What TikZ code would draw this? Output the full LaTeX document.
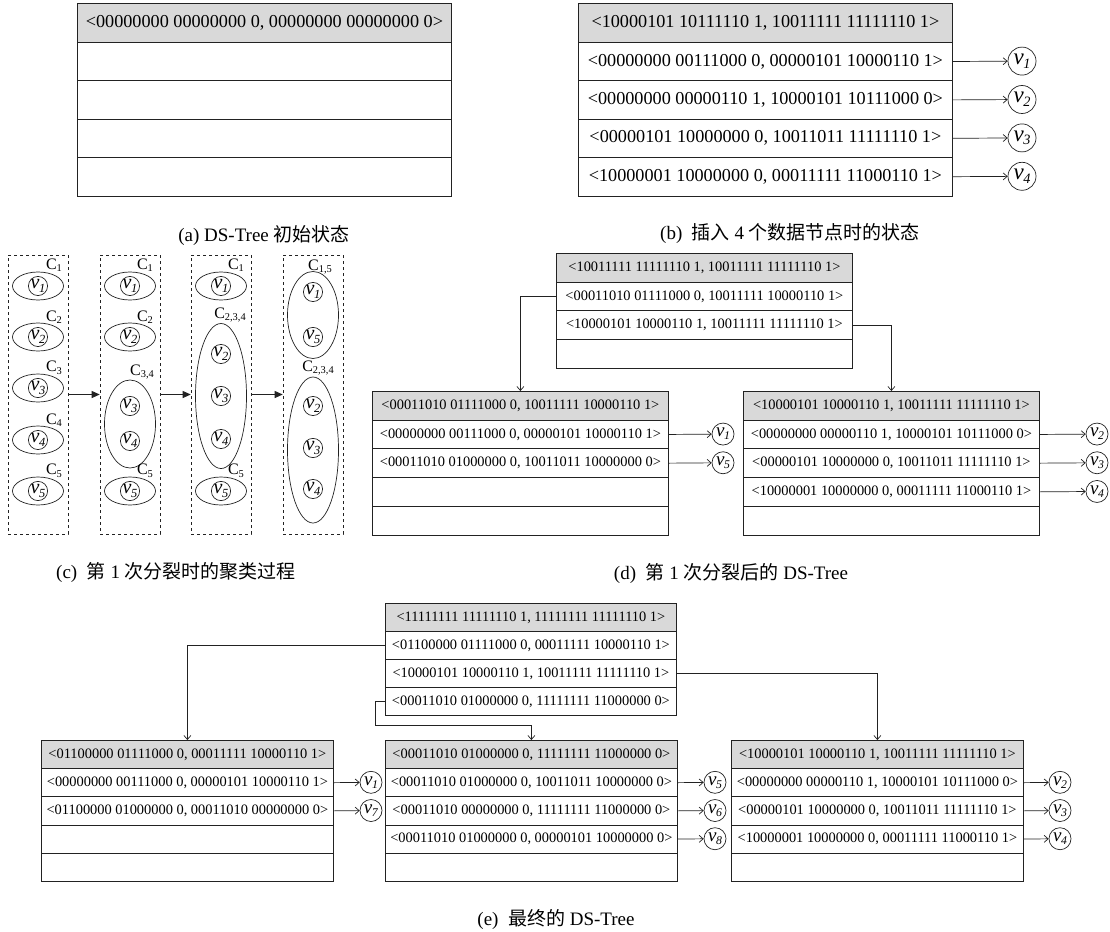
\documentclass[tikz,border=0pt]{standalone}
\usepackage{fontspec}
\setmainfont{Liberation Serif}
\newfontfamily\cjk{Noto Sans CJK SC}
\usepackage{graphicx}
\usetikzlibrary{shapes.geometric,arrows.meta}
\definecolor{hdrgray}{HTML}{D9D9D9}
\definecolor{ink}{HTML}{222222}
\newcommand{\vsub}[1]{\textit{v}\kern-0.02em\raisebox{-0.35ex}{\scalebox{0.62}{\textit{#1}}}}
\newcommand{\csub}[1]{C\raisebox{-0.35ex}{\scalebox{0.65}{#1}}}
\tikzset{
  tblA/.style={draw=ink, line width=0.8pt, minimum width=374pt, minimum height=38.4pt, inner sep=0pt, anchor=north west, font=\fontsize{18.2}{20}\selectfont},
  tblD/.style={draw=ink, line width=0.8pt, minimum width=296pt, minimum height=28.7pt, inner sep=0pt, anchor=north west, font=\fontsize{14.4}{16}\selectfont},
  tblE/.style={draw=ink, line width=0.8pt, minimum width=292pt, minimum height=28.1pt, inner sep=0pt, anchor=north west, font=\fontsize{14.4}{16}\selectfont},
  hdr/.style={fill=hdrgray},
  vbig/.style={circle, draw=ink, line width=0.7pt, minimum size=28pt, inner sep=0pt, font=\fontsize{23}{23}\selectfont},
  vmid/.style={circle, draw=ink, line width=0.7pt, minimum size=22pt, inner sep=0pt, font=\fontsize{19}{19}\selectfont},
  vsmall/.style={circle, draw=ink, line width=0.7pt, minimum size=18pt, inner sep=0pt, font=\fontsize{20}{20}\selectfont},
  clu/.style={ellipse, draw=ink, line width=0.7pt, inner sep=0pt, minimum width=51pt},
  clab/.style={font=\fontsize{16}{16}\selectfont, inner sep=0pt},
  cbox/.style={draw=ink, dashed, line width=0.6pt, minimum width=60pt, minimum height=279pt, inner sep=0pt},
  conn/.style={draw=ink, line width=0.7pt, -{Straight Barb[length=4pt,width=7pt]}},
  flow/.style={draw=ink, line width=0.8pt, -{Triangle[length=8pt,width=7pt]}},
  capt/.style={font=\fontsize{19}{19}\selectfont, inner sep=0pt},
}
\begin{document}
\begin{tikzpicture}[x=1pt,y=-1pt]
\useasboundingbox (0,0) rectangle (1110,931);
% ---------------- (a)
\node[tblA,hdr] (a0) at (77,3.5) {<00000000 00000000 0, 00000000 00000000 0>};
\node[tblA] (a1) at (77,41.9) {};
\node[tblA] (a2) at (77,80.3) {};
\node[tblA] (a3) at (77,118.7) {};
\node[tblA] (a4) at (77,157.1) {};
\node[capt] (capa) at (264,236) {(a) DS-Tree {\cjk 初始状态}};
% ---------------- (b)
\node[tblA,hdr] (b0) at (578,3.5) {<10000101 10111110 1, 10011111 11111110 1>};
\node[tblA] (b1) at (578,41.9) {<00000000 00111000 0, 00000101 10000110 1>};
\node[tblA] (b2) at (578,80.3) {<00000000 00000110 1, 10000101 10111000 0>};
\node[tblA] (b3) at (578,118.7) {<00000101 10000000 0, 10011011 11111110 1>};
\node[tblA] (b4) at (578,157.1) {<10000001 10000000 0, 00011111 11000110 1>};
\node[vbig] (bv1) at (1022,61.1) {\vsub{1}};
\node[vbig] (bv2) at (1022,99.5) {\vsub{2}};
\node[vbig] (bv3) at (1022,137.9) {\vsub{3}};
\node[vbig] (bv4) at (1022,176.3) {\vsub{4}};
\draw[conn] (b1.east) -- (bv1);
\draw[conn] (b2.east) -- (bv2);
\draw[conn] (b3.east) -- (bv3);
\draw[conn] (b4.east) -- (bv4);
\node[capt] (capb) at (790,234) {(b)\ \ {\cjk 插入} 4 {\cjk 个数据节点时的状态}};
% ---------------- (c)
\node[cbox] (cb1) at (38,394.5) {};
\node[cbox] (cb2) at (130,394.5) {};
\node[cbox] (cb3) at (221,394.5) {};
\node[cbox] (cb4) at (313,394.5) {};
\draw[flow] (cb1.east) -- (cb2.west);
\draw[flow] (cb2.east) -- (cb3.west);
\draw[flow] (cb3.east) -- (cb4.west);
% box 1
\node[clu, minimum height=28pt] (c1e1) at (38,286) {};
\node[clu, minimum height=28pt] (c1e2) at (38,337) {};
\node[clu, minimum height=28pt] (c1e3) at (38,388) {};
\node[clu, minimum height=28pt] (c1e4) at (38,440) {};
\node[clu, minimum height=28pt] (c1e5) at (38,491) {};
\node[vsmall] (c1v1) at (38,286) {\vsub{1}};
\node[vsmall] (c1v2) at (38,337) {\vsub{2}};
\node[vsmall] (c1v3) at (38,388) {\vsub{3}};
\node[vsmall] (c1v4) at (38,440) {\vsub{4}};
\node[vsmall] (c1v5) at (38,491) {\vsub{5}};
\node[clab] (c1l1) at (54,265) {\csub{1}};
\node[clab] (c1l2) at (54,317) {\csub{2}};
\node[clab] (c1l3) at (54,368) {\csub{3}};
\node[clab] (c1l4) at (54,420) {\csub{4}};
\node[clab] (c1l5) at (54,471) {\csub{5}};
% box 2
\node[clu, minimum height=28pt] (c2e1) at (130,286) {};
\node[clu, minimum height=28pt] (c2e2) at (130,337) {};
\node[clu, minimum height=88pt] (c2e34) at (130,424) {};
\node[clu, minimum height=28pt] (c2e5) at (130,491) {};
\node[vsmall] (c2v1) at (130,286) {\vsub{1}};
\node[vsmall] (c2v2) at (130,337) {\vsub{2}};
\node[vsmall] (c2v3) at (130,406) {\vsub{3}};
\node[vsmall] (c2v4) at (130,441) {\vsub{4}};
\node[vsmall] (c2v5) at (130,491) {\vsub{5}};
\node[clab] (c2l1) at (145,265) {\csub{1}};
\node[clab] (c2l2) at (145,317) {\csub{2}};
\node[clab] (c2l34) at (142,372) {\csub{3,4}};
\node[clab] (c2l5) at (145,471) {\csub{5}};
% box 3
\node[clu, minimum height=28pt] (c3e1) at (221,286) {};
\node[clu, minimum height=145pt] (c3e234) at (221,396) {};
\node[clu, minimum height=28pt] (c3e5) at (221,491) {};
\node[vsmall] (c3v1) at (221,286) {\vsub{1}};
\node[vsmall] (c3v2) at (221,354) {\vsub{2}};
\node[vsmall] (c3v3) at (221,396) {\vsub{3}};
\node[vsmall] (c3v4) at (221,439) {\vsub{4}};
\node[vsmall] (c3v5) at (221,491) {\vsub{5}};
\node[clab] (c3l1) at (236,265) {\csub{1}};
\node[clab] (c3l234) at (230,315) {\csub{2,3,4}};
\node[clab] (c3l5) at (236,471) {\csub{5}};
% box 4
\node[clu, minimum height=87pt] (c4e15) at (313,315) {};
\node[clu, minimum height=146pt] (c4e234) at (313,450) {};
\node[vsmall] (c4v1) at (313,292) {\vsub{1}};
\node[vsmall] (c4v5) at (313,337) {\vsub{5}};
\node[vsmall] (c4v2) at (313,406) {\vsub{2}};
\node[vsmall] (c4v3) at (313,448) {\vsub{3}};
\node[vsmall] (c4v4) at (313,489) {\vsub{4}};
\node[clab] (c4l15) at (320,267) {\csub{1,5}};
\node[clab] (c4l234) at (318,368) {\csub{2,3,4}};
\node[capt] (capc) at (176,572) {(c)\ \ {\cjk 第} 1 {\cjk 次分裂时的聚类过程}};
% ---------------- (d)
\node[tblD,hdr] (d0r0) at (556,253) {<10011111 11111110 1, 10011111 11111110 1>};
\node[tblD] (d0r1) at (556,281.7) {<00011010 01111000 0, 10011111 10000110 1>};
\node[tblD] (d0r2) at (556,310.4) {<10000101 10000110 1, 10011111 11111110 1>};
\node[tblD] (d0r3) at (556,339.1) {};
\node[tblD,hdr] (d1r0) at (372,391) {<00011010 01111000 0, 10011111 10000110 1>};
\node[tblD] (d1r1) at (372,419.7) {<00000000 00111000 0, 00000101 10000110 1>};
\node[tblD] (d1r2) at (372,448.4) {<00011010 01000000 0, 10011011 10000000 0>};
\node[tblD] (d1r3) at (372,477.1) {};
\node[tblD] (d1r4) at (372,505.8) {};
\node[tblD,hdr] (d2r0) at (743,391) {<10000101 10000110 1, 10011111 11111110 1>};
\node[tblD] (d2r1) at (743,419.7) {<00000000 00000110 1, 10000101 10111000 0>};
\node[tblD] (d2r2) at (743,448.4) {<00000101 10000000 0, 10011011 11111110 1>};
\node[tblD] (d2r3) at (743,477.1) {<10000001 10000000 0, 00011111 11000110 1>};
\node[tblD] (d2r4) at (743,505.8) {};
\node[vmid] (dv1) at (723,434.05) {\vsub{1}};
\node[vmid] (dv5) at (723,462.75) {\vsub{5}};
\node[vmid] (dv2) at (1097,434.05) {\vsub{2}};
\node[vmid] (dv3) at (1097,462.75) {\vsub{3}};
\node[vmid] (dv4) at (1097,491.45) {\vsub{4}};
\draw[conn] (d1r1.east) -- (dv1);
\draw[conn] (d1r2.east) -- (dv5);
\draw[conn] (d2r1.east) -- (dv2);
\draw[conn] (d2r2.east) -- (dv3);
\draw[conn] (d2r3.east) -- (dv4);
\draw[conn] (d0r1.west) -| (d1r0.north);
\draw[conn] (d0r2.east) -| (d2r0.north);
\node[capt] (capd) at (731,573) {(d)\ \ {\cjk 第} 1 {\cjk 次分裂后的} DS-Tree};
% ---------------- (e)
\node[tblE,hdr,minimum width=291pt,minimum height=28pt] (e0r0) at (385,603) {<11111111 11111110 1, 11111111 11111110 1>};
\node[tblE,minimum width=291pt,minimum height=28pt] (e0r1) at (385,631) {<01100000 01111000 0, 00011111 10000110 1>};
\node[tblE,minimum width=291pt,minimum height=28pt] (e0r2) at (385,659) {<10000101 10000110 1, 10011111 11111110 1>};
\node[tblE,minimum width=291pt,minimum height=28pt] (e0r3) at (385,687) {<00011010 01000000 0, 11111111 11000000 0>};
\node[tblE,hdr] (e1r0) at (41,740) {<01100000 01111000 0, 00011111 10000110 1>};
\node[tblE] (e1r1) at (41,768.2) {<00000000 00111000 0, 00000101 10000110 1>};
\node[tblE] (e1r2) at (41,796.4) {<01100000 01000000 0, 00011010 00000000 0>};
\node[tblE] (e1r3) at (41,824.6) {};
\node[tblE] (e1r4) at (41,852.8) {};
\node[tblE,hdr] (e2r0) at (385,740) {<00011010 01000000 0, 11111111 11000000 0>};
\node[tblE] (e2r1) at (385,768.2) {<00011010 01000000 0, 10011011 10000000 0>};
\node[tblE] (e2r2) at (385,796.4) {<00011010 00000000 0, 11111111 11000000 0>};
\node[tblE] (e2r3) at (385,824.6) {<00011010 01000000 0, 00000101 10000000 0>};
\node[tblE] (e2r4) at (385,852.8) {};
\node[tblE,hdr] (e3r0) at (731,740) {<10000101 10000110 1, 10011111 11111110 1>};
\node[tblE] (e3r1) at (731,768.2) {<00000000 00000110 1, 10000101 10111000 0>};
\node[tblE] (e3r2) at (731,796.4) {<00000101 10000000 0, 10011011 11111110 1>};
\node[tblE] (e3r3) at (731,824.6) {<10000001 10000000 0, 00011111 11000110 1>};
\node[tblE] (e3r4) at (731,852.8) {};
\node[vmid] (ev1) at (371,782.3) {\vsub{1}};
\node[vmid] (ev7) at (371,810.5) {\vsub{7}};
\node[vmid] (ev5) at (715,782.3) {\vsub{5}};
\node[vmid] (ev6) at (715,810.5) {\vsub{6}};
\node[vmid] (ev8) at (715,838.7) {\vsub{8}};
\node[vmid] (ev2) at (1060,782.3) {\vsub{2}};
\node[vmid] (ev3) at (1060,810.5) {\vsub{3}};
\node[vmid] (ev4) at (1060,838.7) {\vsub{4}};
\draw[conn] (e1r1.east) -- (ev1);
\draw[conn] (e1r2.east) -- (ev7);
\draw[conn] (e2r1.east) -- (ev5);
\draw[conn] (e2r2.east) -- (ev6);
\draw[conn] (e2r3.east) -- (ev8);
\draw[conn] (e3r1.east) -- (ev2);
\draw[conn] (e3r2.east) -- (ev3);
\draw[conn] (e3r3.east) -- (ev4);
\draw[conn] (e0r1.west) -| (e1r0.north);
\draw[conn] (e0r2.east) -| (e3r0.north);
\draw[conn] (e0r3.west) -- ++(-10,0) |- ([yshift=15pt]e2r0.north) -- (e2r0.north);
\node[capt] (cape) at (556,919) {(e)\ \ {\cjk 最终的} DS-Tree};
\end{tikzpicture}
\end{document}
